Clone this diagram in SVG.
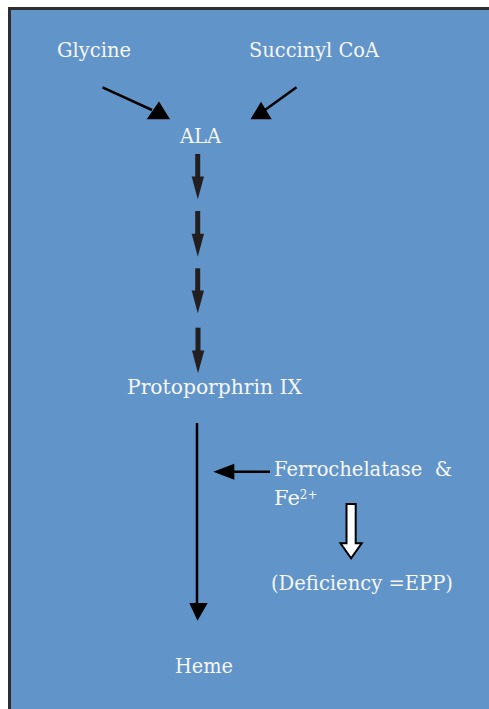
<svg xmlns="http://www.w3.org/2000/svg" width="489" height="709" viewBox="0 0 489 709">
<style>
.t{font-family:"DejaVu Serif","Liberation Serif",serif;font-size:21px;fill:#f7f7f7}
.ln{stroke:#000;stroke-width:2.5;fill:none}
.hd{fill:#000}
.dk{fill:#231f20}
</style>
<rect x="0" y="0" width="489" height="709" fill="#ffffff"/>
<rect x="9.5" y="8.5" width="490" height="710" fill="#6194c9" stroke="#2e2e2e" stroke-width="3"/>
<g id="glycine"><text class="t" x="57" y="57" textLength="74" lengthAdjust="spacingAndGlyphs">Glycine</text></g>
<g id="succinyl-coa"><text class="t" x="249" y="57" textLength="130" lengthAdjust="spacingAndGlyphs">Succinyl CoA</text></g>
<g id="ala"><text class="t" x="180" y="143" textLength="41" lengthAdjust="spacingAndGlyphs">ALA</text></g>
<g id="protoporphrin"><text class="t" x="127" y="394" textLength="175" lengthAdjust="spacingAndGlyphs">Protoporphrin IX</text></g>
<g id="ferrochelatase">
<text class="t" x="274" y="476" textLength="178" lengthAdjust="spacingAndGlyphs" xml:space="preserve">Ferrochelatase  &amp;</text>
<text class="t" x="274" y="505" font-size="20">Fe<tspan font-size="12" dy="-6">2+</tspan></text>
</g>
<g id="deficiency"><text class="t" x="271" y="590" textLength="182" lengthAdjust="spacingAndGlyphs">(Deficiency =EPP)</text></g>
<g id="heme"><text class="t" x="175" y="673" textLength="58" lengthAdjust="spacingAndGlyphs">Heme</text></g>
<g id="connectors">
<line class="ln" x1="102.5" y1="87.3" x2="152" y2="110"/>
<polygon class="hd" points="146.7,119.3 170,119.3 159,101.5"/>
<line class="ln" x1="296.5" y1="87.3" x2="265" y2="110"/>
<polygon class="hd" points="250.5,119.3 271.7,119.3 261,101.7"/>
<g class="dk">
<rect x="195.2" y="154" width="5" height="24"/><polygon points="191.7,176.5 204,176.5 197.8,199.3"/>
<rect x="195.2" y="211" width="5" height="24"/><polygon points="191.7,233.8 204,233.8 197.8,256.7"/>
<rect x="195.2" y="268.3" width="5" height="23"/><polygon points="191.7,290.5 204,290.5 197.8,313.3"/>
<rect x="195.5" y="327.7" width="5" height="24"/><polygon points="192,350.5 204.3,350.5 198,373.3"/>
</g>
<line class="ln" x1="197" y1="423" x2="197" y2="606"/>
<polygon class="hd" points="189.3,603 207.7,603 197.5,620.7"/>
<line class="ln" x1="270" y1="471.7" x2="230" y2="471.7"/>
<polygon class="hd" points="213.3,471.7 234.3,463.7 234.3,479.7"/>
<polygon points="346.5,504 355.7,504 355.7,543.3 361.7,543.3 351.1,558.3 340.5,543.3 346.5,543.3" fill="#ffffff" stroke="#000" stroke-width="2"/>
</g>
</svg>
